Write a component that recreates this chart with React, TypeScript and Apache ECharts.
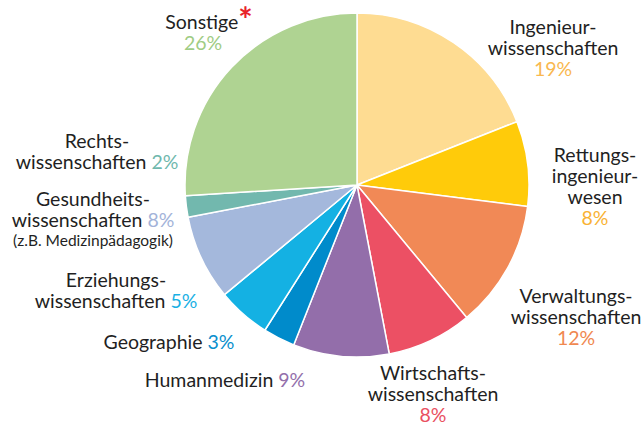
import React, { useEffect, useRef } from "react";
import * as echarts from "echarts";

const categories = [
  "Ingenieur-\nwissenschaften",
  "Rettungs-\ningenieur-\nwesen",
  "Verwaltungs-\nwissenschaften",
  "Wirtschafts-\nwissenschaften",
  "Humanmedizin",
  "Geographie",
  "Erziehungs-\nwissenschaften",
  "Gesundheits-\nwissenschaften",
  "Rechts-\nwissenschaften",
  "Sonstige",
];
const values = [19, 8, 12, 8, 9, 3, 5, 8, 2, 26];
const notes = ["", "", "", "", "", "", "", "(z.B. Medizinpädagogik)", "", ""];
const starred = [false, false, false, false, false, false, false, false, false, true];
const pctInline = [false, false, false, false, true, true, true, true, true, false];

const sliceColors = ["#FEDC92", "#FFCB0A", "#F18956", "#EC5064", "#936EAA", "#008BCB", "#14B1E3", "#A4B8DC", "#72B8AE", "#AFD392"];
const pctColors = ["#F9B84F", "#F9B233", "#F0884F", "#E9505F", "#9370AB", "#0A8FCD", "#1AB0E4", "#A3B3D9", "#6FB8AD", "#9FCC84"];
const labelPos = [
  [553, 47],
  [595, 186],
  [576, 316],
  [433, 393],
  [225, 379],
  [169, 341],
  [116, 290],
  [93, 219],
  [97, 151],
  [209, 32],
];

const FONT = "Lato";

export default function App() {
  const ref = useRef<HTMLDivElement>(null);
  useEffect(() => {
    const chart = echarts.init(ref.current!, null, { renderer: "svg" });
    const LH = 21;
    const rich: any = {
      n: { fontFamily: FONT, fontSize: 19.5, color: "#1f1f23", lineHeight: LH },
      s: { fontFamily: FONT, fontSize: 15.5, color: "#1f1f23", lineHeight: LH },
      star: { fontFamily: FONT, fontSize: 34, fontWeight: "bold", color: "#E8232A", verticalAlign: "middle", lineHeight: 14, padding: [0, 0, 7, 0] },
    };
    pctColors.forEach((c, i) => {
      rich["p" + i] = { fontFamily: FONT, fontSize: 19.5, color: c, lineHeight: LH };
    });
    rich.p9.padding = [0, 12, 0, 0];
    chart.setOption({
      animation: false,
      series: [
        {
          type: "pie",
          center: [357, 185],
          radius: 172,
          startAngle: 90,
          clockwise: true,
          avoidLabelOverlap: false,
          itemStyle: { borderColor: "#fff", borderWidth: 1.5 },
          labelLine: { show: false },
          emphasis: { disabled: true },
          label: {
            show: true,
            position: "outside",
            align: "center",
            rich,
            formatter: (p: any) => {
              const i = p.dataIndex;
              const lines = categories[i].split("\n").map((l) => `{n|${l}}`);
              const pct = `{p${i}|${values[i]}%}`;
              if (starred[i]) lines[lines.length - 1] += "{star|*}";
              if (pctInline[i]) lines[lines.length - 1] += `{n| }` + pct;
              else lines.push(pct);
              if (notes[i]) lines.push(`{s|${notes[i]}}`);
              return lines.join("\n");
            },
          },
          labelLayout: (params: any) => {
            const pos = labelPos[params.dataIndex];
            return { x: pos[0], y: pos[1], align: "center", verticalAlign: "middle" };
          },
          data: categories.map((c, i) => ({
            name: c,
            value: values[i],
            itemStyle: { color: sliceColors[i] },
          })),
        },
      ],
    });
    return () => chart.dispose();
  }, []);
  return <div ref={ref} style={{ position: "fixed", left: 0, top: 0, width: 642, height: 424, background: "#fff" }} />;
}
